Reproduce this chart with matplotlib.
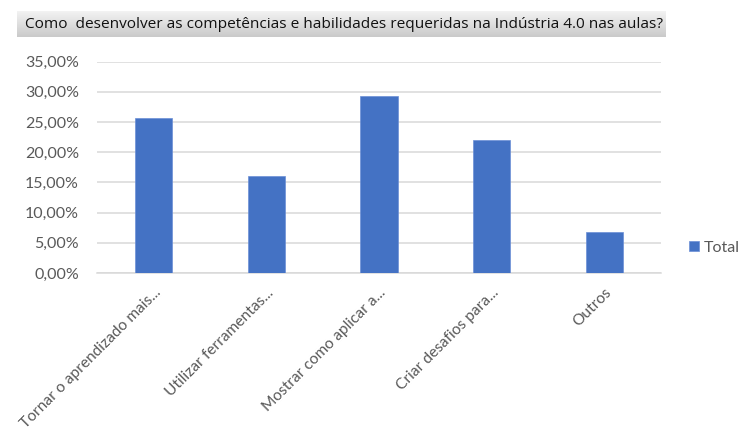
import matplotlib
matplotlib.use("Agg")
import matplotlib.pyplot as plt
from matplotlib.ticker import FuncFormatter, MultipleLocator
import numpy as np

TITLE = "Como  desenvolver as competências e habilidades requeridas na Indústria 4.0 nas aulas?"
categories = [
    "Tornar o aprendizado mais...",
    "Utilizar ferramentas...",
    "Mostrar como aplicar a...",
    "Criar desafios para...",
    "Outros",
]
total = [25.6, 16.1, 29.4, 22.1, 6.8]  # percentuais

BAR_COLOR = "#4472C4"
TEXT_GRAY = "#595959"
GRID_GRAY = "#D9D9D9"

plt.rcParams["font.family"] = ["Lato", "DejaVu Sans"]

fig = plt.figure(figsize=(7.44, 4.33), dpi=100, facecolor="white")
ax = fig.add_axes([97 / 744, 1 - 273 / 433, 564 / 744, (273 - 61.7) / 433])

x = np.arange(len(categories))
ax.bar(x, total, width=0.33, color=BAR_COLOR, edgecolor="#6b8fd6", linewidth=0.5,
       label="Total", zorder=3)

ax.set_xlim(-0.5, len(categories) - 0.5)
ax.set_ylim(0, 35)
ax.yaxis.set_major_locator(MultipleLocator(5))
ax.yaxis.set_major_formatter(FuncFormatter(lambda v, _: f"{v:.2f}%".replace(".", ",")))
ax.grid(axis="y", color=GRID_GRAY, linewidth=1.1, zorder=0)
ax.set_axisbelow(True)
for side in ("top", "right", "left"):
    ax.spines[side].set_visible(False)
ax.spines["bottom"].set_color(GRID_GRAY)
ax.spines["bottom"].set_linewidth(1.1)
ax.tick_params(axis="both", length=0, colors=TEXT_GRAY, labelsize=11.5)
ax.tick_params(axis="y", pad=13)
ax.set_xticks(x)
ax.set_xticklabels(categories, rotation=45, ha="right", rotation_mode="anchor")
ax.tick_params(axis="x", pad=9, labelsize=11.2)

# legenda à direita
ax.legend(loc="center left", bbox_to_anchor=(1.025, 0.12), frameon=False,
          fontsize=11.5, labelcolor=TEXT_GRAY, handlelength=0.6, handleheight=0.6,
          handletextpad=0.3)

# título em caixa cinza com degradê
tax = fig.add_axes([17 / 744, 1 - 37 / 433, (666 - 17) / 744, 26 / 433])
grad = np.linspace(0.95, 0.79, 64).reshape(-1, 1)
tax.imshow(grad, cmap="gray", vmin=0, vmax=1, aspect="auto",
           extent=(0, 1, 0, 1), origin="upper")
tax.set_xlim(0, 1)
tax.set_ylim(0, 1)
tax.axis("off")
tax.text(0.012, 0.48, TITLE, ha="left", va="center", fontsize=11.1, color="#111111",
         family=["Open Sans", "DejaVu Sans"])

fig.savefig("out.png", dpi=100, facecolor="white")
